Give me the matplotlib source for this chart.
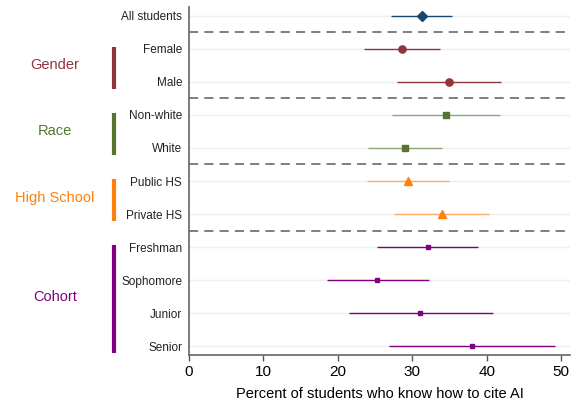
import matplotlib
matplotlib.use("Agg")
import matplotlib.pyplot as plt
from matplotlib import transforms
import numpy as np

plt.rcParams['font.family'] = ['Liberation Sans', 'DejaVu Sans']

# values
row_labels = ["All students", "Female", "Male", "Non-white", "White",
              "Public HS", "Private HS", "Freshman", "Sophomore", "Junior", "Senior"]
estimate = [31.3, 28.6, 34.9, 34.5, 29.0, 29.4, 34.0, 32.1, 25.3, 31.1, 38.0]
ci_low = [27.1, 23.5, 27.9, 27.3, 24.1, 23.9, 27.6, 25.3, 18.5, 21.5, 26.9]
ci_high = [35.4, 33.7, 41.9, 41.8, 34.0, 35.0, 40.3, 38.9, 32.2, 40.8, 49.2]

# group of each row (0 = overall)
row_group = [0, 1, 1, 2, 2, 3, 3, 4, 4, 4, 4]
group_names = ["", "Gender", "Race", "High School", "Cohort"]
group_colors = ["#1a476f", "#90353b", "#55752f", "#ff7f0e", "#800080"]
group_markers = ["D", "o", "s", "^", "s"]
group_msize = [4.6, 5.2, 5.0, 5.6, 2.8]
group_ci_alpha = [1.0, 1.0, 0.6, 0.6, 1.0]

fig = plt.figure(figsize=(5.79, 4.05), dpi=100)
ax = fig.add_axes([189 / 579, 1 - 355 / 405, (570 - 189) / 579, (355 - 7) / 405])

ypos = np.arange(len(row_labels))

for y in ypos:
    ax.axhline(y, color="#eaf0f4", lw=1.0, zorder=0)

for i in range(len(row_labels)):
    g = row_group[i]
    ax.plot([ci_low[i], ci_high[i]], [ypos[i], ypos[i]], color=group_colors[g],
            lw=1.0, alpha=group_ci_alpha[g], solid_capstyle="butt", zorder=2)
    ax.plot(estimate[i], ypos[i], marker=group_markers[g], ms=group_msize[g],
            color=group_colors[g], mec=group_colors[g], zorder=3)

# dashed separators between groups
for i in range(1, len(row_labels)):
    if row_group[i] != row_group[i - 1]:
        ax.axhline(i - 0.5, color="#333333", lw=1.1, ls=(0, (6, 4)), alpha=0.8, zorder=1)

ax.set_xlim(0, 51.2)
ax.set_ylim(10.27, -0.27)
ax.set_xticks([0, 10, 20, 30, 40, 50])
ax.set_yticks(ypos)
ax.set_yticklabels(row_labels, fontsize=8.5, color="#222222")
ax.tick_params(axis="y", length=0, pad=5)
ax.tick_params(axis="x", labelsize=11, length=4, width=1, color="#555555", pad=3)
ax.set_xlabel("Percent of students who know how to cite AI", fontsize=10.5, labelpad=6)

for s in ["top", "right"]:
    ax.spines[s].set_visible(False)
for s in ["left", "bottom"]:
    ax.spines[s].set_color("#666666")
    ax.spines[s].set_linewidth(1.2)

# group labels and bars on the left
trans = transforms.blended_transform_factory(fig.transFigure, ax.transData)
for g in range(1, len(group_names)):
    rows = [i for i in range(len(row_labels)) if row_group[i] == g]
    first, last = rows[0], rows[-1]
    ax.plot([114 / 579, 114 / 579], [first - 0.05, last + 0.2], transform=trans,
            color=group_colors[g], lw=3, clip_on=False, solid_capstyle="butt")
    ax.text(55 / 579, (first + last) / 2, group_names[g], transform=trans,
            color=group_colors[g], fontsize=10.5, ha="center", va="center")

fig.savefig("out.png", dpi=100)
